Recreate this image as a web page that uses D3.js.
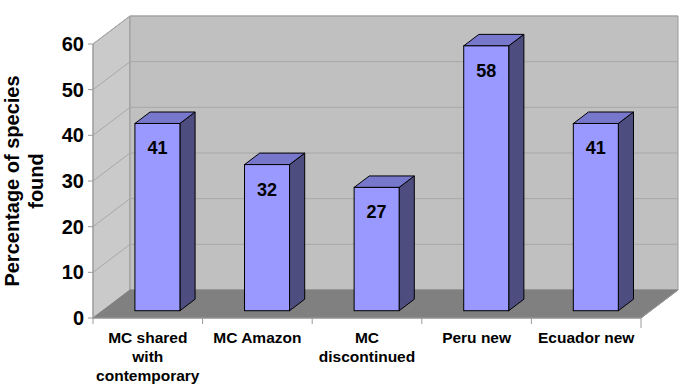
<!DOCTYPE html>
<html>
<head>
<meta charset="utf-8">
<script src="https://cdn.jsdelivr.net/npm/d3@7"></script>
<style>
  body { margin: 0; background: #fff; }
  text { font-family: "Liberation Sans", Arial, sans-serif; font-weight: bold; }
</style>
</head>
<body>
<script>
const width = 685, height = 389;

// data
const categories = ['MC shared|with|contemporary', 'MC Amazon', 'MC|discontinued', 'Peru new', 'Ecuador new'];
const values = [41, 32, 27, 58, 41];
const yTicks = [0, 10, 20, 30, 40, 50, 60];

// frame geometry (front plane) and depth of the box
const plotLeft = 93, plotRight = 641, plotBottom = 318, plotTop = 44;
const depth = [37, -28];
// where the bars sit inside the box (front / back as fraction of depth)
const barFront = 0.26, barBack = 0.67;

const x = d3.scaleBand().domain(categories).range([plotLeft, plotRight]);
const y = d3.scaleLinear().domain([0, 60]).range([plotBottom, plotTop]);

const svg = d3.select('body').append('svg')
    .attr('width', width).attr('height', height);

const pt = (px, py, t) => [px + depth[0] * t, py + depth[1] * t];
const line = d3.line();

// side wall
svg.append('path')
    .attr('d', line([pt(plotLeft, plotBottom, 0), pt(plotLeft, plotBottom, 1), pt(plotLeft, plotTop, 1), pt(plotLeft, plotTop, 0)]) + 'Z')
    .attr('fill', '#cacaca').attr('stroke', '#9a9a9a').attr('stroke-width', 1);
// back wall
svg.append('path')
    .attr('d', line([pt(plotLeft, plotBottom, 1), pt(plotRight, plotBottom, 1), pt(plotRight, plotTop, 1), pt(plotLeft, plotTop, 1)]) + 'Z')
    .attr('fill', '#c0c0c0').attr('stroke', '#9a9a9a').attr('stroke-width', 1);

// gridlines
const grid = svg.append('g').attr('fill', 'none').attr('stroke', '#a8a8a8').attr('stroke-width', 1);
yTicks.filter(d => d > 0).forEach(d => {
    grid.append('path').attr('d', line([pt(plotLeft, y(d), 0), pt(plotLeft, y(d), 1), pt(plotRight, y(d), 1)]));
});

// floor
svg.append('path')
    .attr('d', line([pt(plotLeft, plotBottom, 0), pt(plotRight, plotBottom, 0), pt(plotRight, plotBottom, 1), pt(plotLeft, plotBottom, 1)]) + 'Z')
    .attr('fill', '#808080').attr('stroke', '#808080');

// axes lines and ticks
const axis = svg.append('g').attr('stroke', '#9a9a9a').attr('stroke-width', 1).attr('fill', 'none');
axis.append('line').attr('x1', plotLeft).attr('x2', plotLeft).attr('y1', plotTop).attr('y2', plotBottom);
yTicks.forEach(d => {
    axis.append('line').attr('x1', plotLeft - 5).attr('x2', plotLeft).attr('y1', y(d)).attr('y2', y(d));
});
axis.append('line').attr('x1', plotLeft).attr('x2', plotRight).attr('y1', plotBottom).attr('y2', plotBottom);
categories.forEach(c => {
    axis.append('line').attr('x1', x(c)).attr('x2', x(c)).attr('y1', plotBottom).attr('y2', plotBottom + 6);
});
axis.append('line').attr('x1', plotRight).attr('x2', plotRight).attr('y1', plotBottom).attr('y2', plotBottom + 10);
axis.append('line').attr('x1', plotRight).attr('x2', plotRight + depth[0]).attr('y1', plotBottom).attr('y2', plotBottom + depth[1]);

// y tick labels
svg.append('g').selectAll('text').data(yTicks).join('text')
    .attr('x', plotLeft - 9).attr('y', d => y(d) + 7)
    .attr('text-anchor', 'end').attr('font-size', 20).attr('fill', '#000')
    .text(d => d);

// y axis title
const title = svg.append('text')
    .attr('transform', 'translate(19,181) rotate(-90)')
    .attr('text-anchor', 'middle').attr('font-size', 20).attr('fill', '#000');
title.append('tspan').attr('x', 0).attr('dy', 0).text('Percentage of species');
title.append('tspan').attr('x', 0).attr('dy', 24).text('found');

// bars
const barW = 45, sideD = barBack - barFront;
const bars = svg.append('g').selectAll('g').data(categories).join('g');
bars.each(function (c, i) {
    const g = d3.select(this);
    const cx = x(c) + x.bandwidth() / 2;
    const [x0, yb] = pt(cx - barW / 2, y(0), barFront);
    const [, yt] = pt(cx, y(values[i]), barFront);
    const x1 = x0 + barW;
    const dx = depth[0] * sideD, dy = depth[1] * sideD;
    // side
    g.append('path')
        .attr('d', line([[x1, yt], [x1 + dx, yt + dy], [x1 + dx, yb + dy], [x1, yb]]) + 'Z')
        .attr('fill', '#4d4d80').attr('stroke', '#000').attr('stroke-width', 1);
    // top
    g.append('path')
        .attr('d', line([[x0, yt], [x0 + dx, yt + dy], [x1 + dx, yt + dy], [x1, yt]]) + 'Z')
        .attr('fill', '#7777cc').attr('stroke', '#000').attr('stroke-width', 1);
    // front
    g.append('rect')
        .attr('x', x0).attr('y', yt).attr('width', barW).attr('height', yb - yt)
        .attr('fill', '#9999ff').attr('stroke', '#000').attr('stroke-width', 1);
    g.append('text')
        .attr('x', x0 + barW / 2).attr('y', yt + 31)
        .attr('text-anchor', 'middle').attr('font-size', 18).attr('fill', '#000')
        .text(values[i]);
});

// category labels
svg.append('g').selectAll('text').data(categories).join('text')
    .attr('text-anchor', 'middle').attr('font-size', 15.5).attr('fill', '#000')
    .each(function (c) {
        const t = d3.select(this);
        c.split('|').forEach((s, k) => {
            t.append('tspan').attr('x', x(c) + x.bandwidth() / 2)
                .attr('y', 343 + k * 19).text(s);
        });
    });
</script>
</body>
</html>
